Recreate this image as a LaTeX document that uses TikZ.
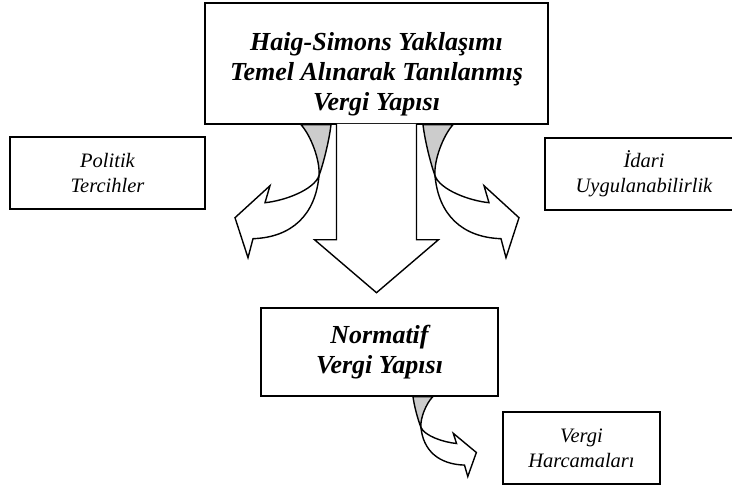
\documentclass[tikz,border=0pt]{standalone}
\usepackage{fontspec}
\setmainfont{Liberation Serif}
\usetikzlibrary{calc}

\begin{document}
\begin{tikzpicture}[x=1pt, y=-1pt, line width=1.4pt,
    every node/.style={draw, rectangle, align=center, inner sep=0pt},
    boldbox/.style={font=\fontsize{26}{30}\selectfont\bfseries\itshape},
    sidebox/.style={font=\fontsize{20.5}{25}\selectfont\itshape},
    ribbon/.style={draw, fill=white},
    twist/.style={draw, fill=gray!40},
    curved/.pic={
        \draw[twist] (30,0) .. controls (20,11) and (10.7,36) .. (12,51)
            .. controls (8,40) and (2,17) .. (0,0) -- cycle;
        \draw[ribbon] (12,51) .. controls (17,65) and (46,76) .. (66,78)
            -- (61,61) -- (96,93) -- (83,133) -- (78,114)
            .. controls (39,112.6) and (15.5,90) .. (12,51) -- cycle;
    }]
    \useasboundingbox (0,0) rectangle (732,487);

    \node[boldbox, minimum width=343, minimum height=121] (top) at (376.5,63.5) {\rule{0pt}{40pt}Haig-Simons Yaklaşımı\\Temel Alınarak Tanılanmış\\Vergi Yapısı};
    \node[sidebox, minimum width=195, minimum height=72] (pol) at (107.5,173) {Politik\\Tercihler};
    \node[sidebox, minimum width=198, minimum height=72] (idari) at (644,174) {İdari\\Uygulanabilirlik};
    \node[boldbox, minimum width=237, minimum height=88] (norm) at (379.5,352) {Normatif\\Vergi Yapısı};
    \node[sidebox, minimum width=157, minimum height=72] (harc) at (581.5,448) {Vergi\\Harcamaları};

    % main block arrow
    \draw[ribbon] ($(top.south)+(-40,-0.7)$) -- ++(0,115.7) -- ++(-22,0) -- ($(top.south)+(0,168)$) -- ++(62,-53) -- ++(-22,0) -- ++(0,-115.7);

    % side arrows
    \pic[xscale=-1] at ($(top.south)+(-45.5,0)$) {curved};
    \pic at ($(top.south)+(46.5,0)$) {curved};
    \pic[xscale=0.66, yscale=0.6] at ($(norm.south)+(33.5,0)$) {curved};
\end{tikzpicture}
\end{document}
